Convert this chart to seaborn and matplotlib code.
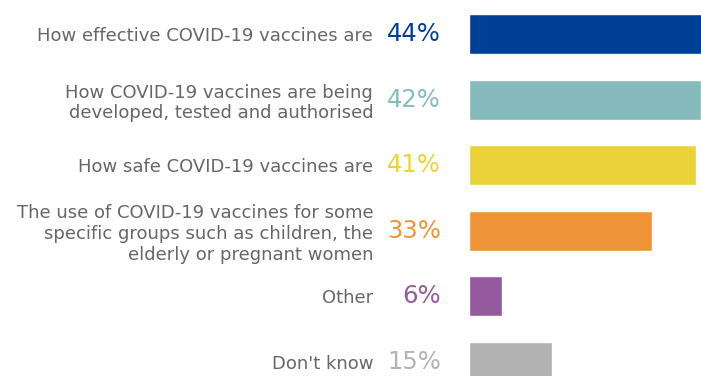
import matplotlib
matplotlib.use('Agg')
import matplotlib.pyplot as plt
import seaborn as sns
import pandas as pd

# Chart data
categories = [
    'How effective COVID-19 vaccines are',
    'How COVID-19 vaccines are being\ndeveloped, tested and authorised',
    'How safe COVID-19 vaccines are',
    'The use of COVID-19 vaccines for some\nspecific groups such as children, the\nelderly or pregnant women',
    'Other',
    "Don't know",
]
values = [44, 42, 41, 33, 6, 15]
colors = ['#003f96', '#85bbbc', '#ebd239', '#f09537', '#955a9e', '#b2b2b2']

df = pd.DataFrame({'topic': categories, 'share': values})

sns.set_style('white')
plt.rcParams['font.family'] = ['DejaVu Sans']

fig = plt.figure(figsize=(7.01, 3.76), dpi=100)
ax = fig.add_axes([469 / 701, 0, 232 / 701, 1])

sns.barplot(data=df, x='share', y='topic', hue='topic', palette=colors,
            width=0.61, legend=False, saturation=1, ax=ax)

ax.set_xlim(0, 41.95)
ax.set_ylim(5.213, -0.518)
ax.set_xlabel('')
ax.set_ylabel('')
ax.set_xticks([])
sns.despine(ax=ax, left=True, bottom=True)
ax.tick_params(axis='y', length=0, pad=69)
for lbl in ax.get_yticklabels():
    lbl.set_fontsize(13)
    lbl.set_color('#666666')
    lbl.set_multialignment('right')
    lbl.set_linespacing(1.2)

# Percent labels to the left of the bars
for i, (v, c) in enumerate(zip(values, colors)):
    ax.annotate(f'{v}%', xy=(0, i), xytext=(-20, 0), textcoords='offset points',
                ha='right', va='center', fontsize=17.5, color=c,
                annotation_clip=False)

fig.savefig('out.png', dpi=100)
